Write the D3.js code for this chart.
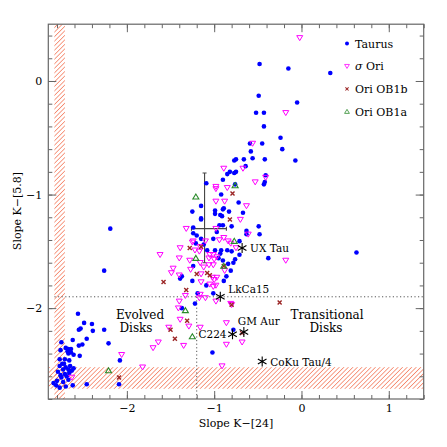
<!DOCTYPE html>
<html>
<head>
<meta charset="utf-8">
<script src="https://cdn.jsdelivr.net/npm/d3@7"></script>
<style>
  body { margin: 0; background: #fff; }
  text { font-family: "DejaVu Serif", serif; fill: #000; }
</style>
</head>
<body>
<script>
// Taurus (blue dots): [slope K-[24], slope K-[5.8]]
const taurus = [
  [-0.48,0.15],[-0.15,0.11],[0.33,0.07],[-0.49,-0.13],[-0.05,-0.19],[-0.52,-0.28],[-0.43,-0.28],
  [-0.43,-0.40],[-0.24,-0.50],[-0.22,-0.60],[-0.07,-0.70],[-0.59,-0.55],[-0.45,-0.55],[-0.58,-0.62],
  [-0.56,-0.68],[-0.42,-0.69],[-0.77,-0.70],[-0.75,-0.69],[-0.66,-0.69],[-0.64,-0.75],[-0.82,-0.80],
  [-0.85,-0.82],[-0.77,-0.81],[-0.75,-0.80],[-0.90,-0.87],[-0.41,-0.83],[-0.42,-0.89],[-0.43,-0.91],
  [-0.92,-1.00],[-0.72,-1.07],[-0.83,-1.15],[-0.67,-1.16],[-0.90,-1.13],[-0.91,-1.19],[-0.76,-0.91],
  [-1.09,-0.90],[-1.15,-1.10],[-1.25,-1.15],[-0.99,-1.14],[-0.99,-1.17],[-1.15,-1.21],[-0.89,-1.12],
  [-0.93,-1.18],[-1.15,-1.22],[-0.49,-1.28],[-0.94,-1.27],[-0.90,-1.27],[-1.24,-1.29],[-0.80,-1.28],
  [-1.24,-1.34],[-1.15,-1.39],[-0.97,-1.33],[-1.01,-1.39],[-0.63,-1.32],[-0.63,-1.35],[-0.71,-1.41],
  [-1.12,-1.44],[-1.21,-1.43],[-1.08,-1.49],[-0.99,-1.49],[-0.93,-1.52],[-0.92,-1.49],[-0.80,-1.50],
  [-0.71,-1.53],[-0.95,-1.56],[-0.90,-1.58],[-0.76,-1.57],[-1.24,-1.63],[-0.84,-1.61],[-1.39,-1.74],
  [-1.37,-1.72],[-0.86,-1.72],[-0.89,-1.76],[-1.09,-1.80],[-1.19,-1.87],[-1.01,-1.87],[-1.22,-1.96],
  [-0.48,-1.35],[0.63,-1.51],[-0.38,-1.56],[-0.85,-1.49],[-0.78,-1.60],[-0.81,-1.67],[-1.20,-1.36],
  [-1.25,-1.76],[-1.37,-2.00],[-0.78,-2.19],[-1.02,-2.39],
  [-2.19,-1.30],[-2.26,-1.67],[-2.08,-2.46],[-2.09,-2.67],[-2.46,-2.67],
  [-2.56,-2.05],[-2.49,-2.13],[-2.40,-2.14],[-2.53,-2.18],[-2.55,-2.19],[-2.39,-2.20],[-2.26,-2.19],
  [-2.46,-2.27],[-2.51,-2.32],[-2.62,-2.28],[-2.75,-2.30],[-2.21,-2.31],[-2.55,-2.33],[-2.70,-2.35],
  [-2.67,-2.36],[-2.64,-2.36],[-2.68,-2.38],[-2.76,-2.37],[-2.64,-2.39],[-2.61,-2.41],[-2.67,-2.40],
  [-2.54,-2.42],[-2.77,-2.45],[-2.71,-2.45],[-2.66,-2.46],[-2.74,-2.49],
  [-2.77,-2.51],[-2.70,-2.52],[-2.65,-2.51],[-2.61,-2.53],[-2.73,-2.54],[-2.67,-2.54],[-2.63,-2.55],
  [-2.79,-2.56],[-2.71,-2.58],[-2.66,-2.57],[-2.75,-2.61],[-2.69,-2.60],[-2.80,-2.64],[-2.73,-2.65],
  [-2.67,-2.63],[-2.81,-2.68],[-2.77,-2.70],[-2.70,-2.69],[-2.62,-2.68],[-2.84,-2.66],[-2.76,-2.59],
  [-2.72,-2.49]
];

// sigma Ori (magenta open down-triangles)
const sigmaOri = [
  [-0.02,0.38],[-0.18,-0.28],[-0.56,-0.55],[-0.89,-0.77],[-0.67,-0.77],[-0.53,-0.89],[-0.41,-0.85],
  [-0.85,-0.94],[-0.88,-1.06],[-0.63,-1.10],[-0.70,-1.22],[-0.98,-0.93],[-0.98,-0.95],[-0.98,-1.06],
  [-1.32,-1.30],[-0.98,-1.30],[-1.24,-1.41],[-1.10,-1.41],[-0.94,-1.40],[-0.89,-1.38],[-0.84,-1.41],
  [-0.81,-1.43],[-1.16,-1.46],[-1.39,-1.47],[-1.62,-1.53],[-1.22,-1.49],[-1.17,-1.50],[-1.05,-1.53],
  [-1.01,-1.53],[-1.06,-1.56],[-1.00,-1.57],[-0.97,-1.55],[-1.40,-1.56],[-1.28,-1.58],[-1.16,-1.60],
  [-1.12,-1.64],[-1.06,-1.62],[-1.01,-1.62],[-0.88,-1.67],[-1.47,-1.65],[-1.49,-1.69],[-1.15,-1.70],
  [-1.02,-1.73],[-0.97,-1.73],[-1.00,-1.75],[-1.15,-1.77],[-1.05,-1.79],[-0.98,-1.80],[-1.01,-1.81],
  [-1.33,-1.89],[-1.16,-1.88],[-0.81,-1.96],[-0.61,-1.35],[-0.18,-1.58],[-0.75,-1.47],[-1.25,-1.42],
  [-1.40,-1.71],[-1.27,-1.66],[-1.17,-1.91],[-1.10,-1.91],[-1.40,-1.94],[-0.98,-1.94],[-1.41,-2.00],
  [-1.39,-2.10],[-1.29,-2.16],[-1.52,-2.17],[-1.16,-2.17],[-0.86,-2.13],[-1.70,-2.35],[-1.64,-2.30],
  [-1.35,-2.33],[-0.86,-2.32],[-0.68,-2.30],[-1.82,-2.52],[-0.91,-2.51],[-2.06,-2.41],[-2.63,-2.61],
  [-0.80,-1.97]
];

// Ori OB1b (dark red crosses)
const oriOB1b = [
  [-0.79,-0.99],[-0.82,-1.22],[-1.28,-1.47],[-1.15,-1.46],[-0.89,-1.63],[-1.20,-1.70],[-1.08,-1.69],
  [-1.05,-1.71],[-1.58,-1.77],[-1.32,-1.84],[-0.80,-1.97],[-0.25,-1.95],[-1.31,-2.11],[-1.50,-2.19],
  [-0.68,-2.22],[-1.45,-2.27],[-2.09,-2.61]
];

// Ori OB1a (green open triangles)
const oriOB1a = [
  [-0.76,-0.92],[-1.21,-1.02],[-0.77,-1.41],[-1.21,-1.56],[-0.89,-1.63],[-1.33,-2.02],[-1.25,-2.25],
  [-2.21,-2.55]
];

// named transitional disks
const starNames = ["UX Tau", "LkCa15", "C224", "GM Aur", "CoKu Tau/4"];
const starX = [-0.68, -0.93, -0.79, -0.66, -0.45];
const starY = [-1.47, -1.90, -2.23, -2.21, -2.47];

const xTicks = [-2, -1, 0, 1];
const yTicks = [0, -1, -2];

// region limits
const xLimitBand = [-2.83, -2.71];
const yLimitBand = [-2.71, -2.52];
const cutX = -1.2, cutY = -1.9;
// representative error bar
const errCenter = [-1.11, -1.30];
const errX = [-1.26, -0.86];
const errY = [-1.60, -0.81];

const W = 447, H = 447;
const svg = d3.select("body").append("svg").attr("width", W).attr("height", H);

const x = d3.scaleLinear().domain([-2.9, 1.4]).range([48.3, 423.7]);
const y = d3.scaleLinear().domain([0.5, -2.8]).range([24.2, 399]);
const [x0, x1] = x.range(), [y0, y1] = y.range();

// hatching
const defs = svg.append("defs");
const pat = defs.append("pattern").attr("id", "hatch")
  .attr("patternUnits", "userSpaceOnUse").attr("width", 3.2).attr("height", 3.2)
  .attr("patternTransform", "rotate(45)");
pat.append("line").attr("x1", 0).attr("y1", 0).attr("x2", 0).attr("y2", 3.2)
  .attr("stroke", "#f2603c").attr("stroke-width", 1.2);
defs.append("clipPath").attr("id", "plotclip").append("rect")
  .attr("x", x0).attr("y", y0).attr("width", x1 - x0).attr("height", y1 - y0);

const plot = svg.append("g").attr("clip-path", "url(#plotclip)");

plot.append("rect")
  .attr("x", x(xLimitBand[0])).attr("y", y0)
  .attr("width", x(xLimitBand[1]) - x(xLimitBand[0])).attr("height", y1 - y0)
  .attr("fill", "url(#hatch)");
plot.append("rect")
  .attr("x", x0).attr("y", y(yLimitBand[1]))
  .attr("width", x1 - x0).attr("height", y(yLimitBand[0]) - y(yLimitBand[1]))
  .attr("fill", "url(#hatch)");

// dotted boundaries
plot.append("line")
  .attr("x1", x(xLimitBand[0])).attr("x2", x1).attr("y1", y(cutY)).attr("y2", y(cutY))
  .attr("stroke", "#555").attr("stroke-width", 1).attr("stroke-dasharray", "1.2,2.4");
plot.append("line")
  .attr("x1", x(cutX)).attr("x2", x(cutX)).attr("y1", y(cutY)).attr("y2", y1)
  .attr("stroke", "#555").attr("stroke-width", 1).attr("stroke-dasharray", "1.2,2.4");

// error bar
const eb = plot.append("g").attr("stroke", "#444").attr("stroke-width", 1.1);
eb.append("line").attr("x1", x(errCenter[0])).attr("x2", x(errCenter[0]))
  .attr("y1", y(errY[1])).attr("y2", y(errY[0]));
eb.append("line").attr("x1", x(errX[0])).attr("x2", x(errX[1]))
  .attr("y1", y(errCenter[1])).attr("y2", y(errCenter[1]));
[errY[0], errY[1]].forEach(v => eb.append("line")
  .attr("x1", x(errCenter[0]) - 2).attr("x2", x(errCenter[0]) + 2)
  .attr("y1", y(v)).attr("y2", y(v)));
[errX[0], errX[1]].forEach(v => eb.append("line")
  .attr("x1", x(v)).attr("x2", x(v))
  .attr("y1", y(errCenter[1]) - 2).attr("y2", y(errCenter[1]) + 2));

// marker shapes
const triDown = "M-3,-2.2L3,-2.2L0,2.8Z";
const triUp = "M-3,2.2L3,2.2L0,-2.8Z";
const cross = "M-2,-2L2,2M-2,2L2,-2";
const star = (function() {
  let p = "";
  [90, 30, 150].forEach(a => {
    const r = 5, c = Math.cos(a * Math.PI / 180) * r, s = Math.sin(a * Math.PI / 180) * r;
    p += `M${-c},${-s}L${c},${s}`;
  });
  return p;
})();

plot.selectAll(".taurus").data(taurus).enter().append("circle")
  .attr("class", "taurus")
  .attr("cx", d => x(d[0])).attr("cy", d => y(d[1])).attr("r", 2.3)
  .attr("fill", "#0000ff");

plot.selectAll(".sori").data(sigmaOri).enter().append("path")
  .attr("class", "sori").attr("d", triDown)
  .attr("transform", d => `translate(${x(d[0])},${y(d[1])})`)
  .attr("fill", "none").attr("stroke", "#ff00ff").attr("stroke-width", 1);

plot.selectAll(".ob1b").data(oriOB1b).enter().append("path")
  .attr("class", "ob1b").attr("d", cross)
  .attr("transform", d => `translate(${x(d[0])},${y(d[1])})`)
  .attr("fill", "none").attr("stroke", "#9b2525").attr("stroke-width", 1.4);

plot.selectAll(".ob1a").data(oriOB1a).enter().append("path")
  .attr("class", "ob1a").attr("d", triUp)
  .attr("transform", d => `translate(${x(d[0])},${y(d[1])})`)
  .attr("fill", "none").attr("stroke", "#2a8a2a").attr("stroke-width", 1.1);

// named stars
const labelOff = {
  "UX Tau": [8, 4, "start"], "LkCa15": [8, -4, "start"], "C224": [-6, 4, "end"],
  "GM Aur": [-6, -7, "start"], "CoKu Tau/4": [8, 4, "start"]
};
starNames.forEach((n, i) => {
  const px = x(starX[i]), py = y(starY[i]);
  plot.append("path").attr("d", star).attr("transform", `translate(${px},${py})`)
    .attr("stroke", "#000").attr("stroke-width", 1.1).attr("fill", "none");
  svg.append("text").attr("x", px + labelOff[n][0]).attr("y", py + labelOff[n][1])
    .attr("text-anchor", labelOff[n][2]).style("font-size", "10.5px").text(n);
});

// region labels
[["Evolved", 140, 319], ["Disks", 136, 332]].forEach(t =>
  svg.append("text").attr("x", t[1]).attr("y", t[2]).attr("text-anchor", "middle")
    .style("font-size", "12px").text(t[0]));
[["Transitional", 327, 319], ["Disks", 326, 332]].forEach(t =>
  svg.append("text").attr("x", t[1]).attr("y", t[2]).attr("text-anchor", "middle")
    .style("font-size", "12px").text(t[0]));

// axes with inward ticks
const fmt = d => d3.format("d")(d).replace("-", "\u2212");
const minorX = d3.range(-2.8, 1.41, 0.2).map(v => +v.toFixed(1));
const minorY = d3.range(-2.8, 0.41, 0.2).map(v => +v.toFixed(1));

function styleAxis(g) {
  g.select(".domain").remove();
  g.selectAll("line").attr("stroke", "#666");
  g.selectAll("text").style("font-family", "DejaVu Serif").style("font-size", "11px").attr("fill", "#000");
}

svg.append("g").attr("transform", `translate(0,${y1})`)
  .call(d3.axisBottom(x).tickValues(xTicks).tickFormat(fmt).tickSize(-8).tickPadding(5)).call(styleAxis);
svg.append("g").attr("transform", `translate(0,${y1})`)
  .call(d3.axisBottom(x).tickValues(minorX).tickFormat("").tickSize(-4)).call(styleAxis);
svg.append("g").attr("transform", `translate(0,${y0})`)
  .call(d3.axisTop(x).tickValues(xTicks).tickFormat("").tickSize(-8)).call(styleAxis);
svg.append("g").attr("transform", `translate(0,${y0})`)
  .call(d3.axisTop(x).tickValues(minorX).tickFormat("").tickSize(-4)).call(styleAxis);

svg.append("g").attr("transform", `translate(${x0},0)`)
  .call(d3.axisLeft(y).tickValues(yTicks).tickFormat(fmt).tickSize(-8).tickPadding(6)).call(styleAxis);
svg.append("g").attr("transform", `translate(${x0},0)`)
  .call(d3.axisLeft(y).tickValues(minorY).tickFormat("").tickSize(-4)).call(styleAxis);
svg.append("g").attr("transform", `translate(${x1},0)`)
  .call(d3.axisRight(y).tickValues(yTicks).tickFormat("").tickSize(-8)).call(styleAxis);
svg.append("g").attr("transform", `translate(${x1},0)`)
  .call(d3.axisRight(y).tickValues(minorY).tickFormat("").tickSize(-4)).call(styleAxis);

// frame
svg.append("rect").attr("x", x0).attr("y", y0).attr("width", x1 - x0).attr("height", y1 - y0)
  .attr("fill", "none").attr("stroke", "#666").attr("stroke-width", 1.2);

// axis titles
svg.append("text").attr("x", 236).attr("y", 427).attr("text-anchor", "middle")
  .style("font-size", "11px").text("Slope K\u2212[24]");
svg.append("text").attr("transform", "translate(21,211) rotate(-90)").attr("text-anchor", "middle")
  .style("font-size", "11px").text("Slope K\u2212[5.8]");

// legend
const legend = svg.append("g");
const lgX = 347, lgY = 43.5, lgStep = 22.7;
legend.append("circle").attr("cx", lgX).attr("cy", lgY).attr("r", 2).attr("fill", "#0000ff");
legend.append("path").attr("d", triDown).attr("transform", `translate(${lgX},${lgY + lgStep}) scale(0.8)`)
  .attr("fill", "none").attr("stroke", "#ff00ff");
legend.append("path").attr("d", cross).attr("transform", `translate(${lgX},${lgY + 2 * lgStep}) scale(0.8)`)
  .attr("fill", "none").attr("stroke", "#9b2525").attr("stroke-width", 1.3);
legend.append("path").attr("d", triUp).attr("transform", `translate(${lgX},${lgY + 3 * lgStep}) scale(0.8)`)
  .attr("fill", "none").attr("stroke", "#2a8a2a");
const lgText = legend.append("g").style("font-size", "11px");
lgText.append("text").attr("x", 355).attr("y", lgY + 4).text("Taurus");
const so = lgText.append("text").attr("x", 355).attr("y", lgY + lgStep + 4);
so.append("tspan").style("font-style", "italic").text("\u03c3");
so.append("tspan").text(" Ori");
lgText.append("text").attr("x", 355).attr("y", lgY + 2 * lgStep + 4).text("Ori OB1b");
lgText.append("text").attr("x", 355).attr("y", lgY + 3 * lgStep + 4).text("Ori OB1a");
</script>
</body>
</html>
